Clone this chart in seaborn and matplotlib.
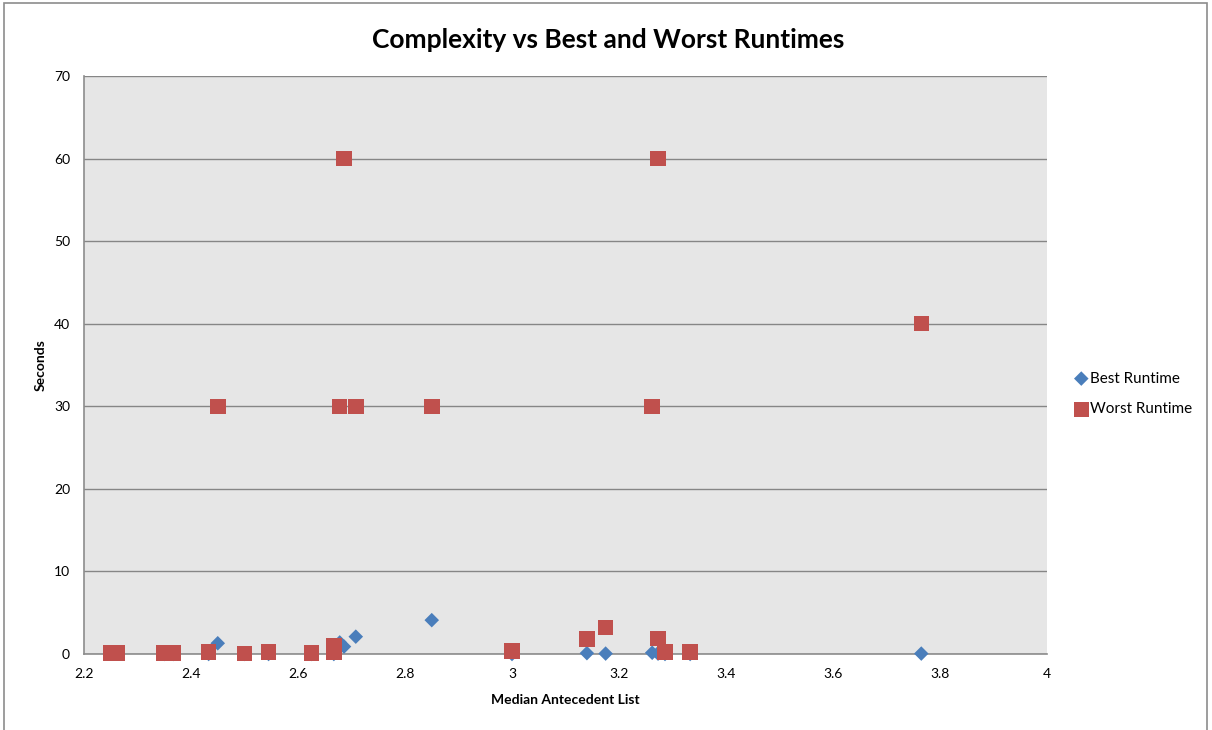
import matplotlib
matplotlib.use("Agg")
import matplotlib.pyplot as plt
import seaborn as sns
import pandas as pd
from matplotlib.patches import Rectangle

# Data
median_antecedent = [2.25, 2.262, 2.35, 2.367, 2.433, 2.45, 2.5, 2.545, 2.625,
                     2.667, 2.667, 2.678, 2.686, 2.708, 2.85, 3.0, 3.14, 3.175,
                     3.262, 3.273, 3.273, 3.286, 3.333, 3.765]
best_runtime = [0.05, 0.05, 0.0, 0.0, 0.0, 1.3, 0.0, 0.0, 0.0,
                0.1, 0.0, 1.4, 0.9, 2.1, 4.1, 0.0, 0.1, 0.05,
                0.15, 0.1, 0.05, 0.0, 0.0, 0.05]
worst_runtime = [0.1, 0.1, 0.15, 0.1, 0.25, 30, 0.05, 0.25, 0.1,
                 1.0, 0.2, 30, 60, 30, 30, 0.35, 1.8, 3.2,
                 30, 60, 1.9, 0.25, 0.25, 40]
series_names = ["Best Runtime", "Worst Runtime"]
x_ticks = [2.2, 2.4, 2.6, 2.8, 3.0, 3.2, 3.4, 3.6, 3.8, 4.0]
x_tick_labels = ["2.2", "2.4", "2.6", "2.8", "3", "3.2", "3.4", "3.6", "3.8", "4"]
y_ticks = [0, 10, 20, 30, 40, 50, 60, 70]

df = pd.DataFrame({
    "x": median_antecedent * 2,
    "y": best_runtime + worst_runtime,
    "series": [series_names[0]] * len(best_runtime) + [series_names[1]] * len(worst_runtime),
})

sns.set_theme(style="white")
plt.rcParams["font.family"] = ["Lato", "DejaVu Sans"]
plt.rcParams["text.color"] = "black"
plt.rcParams["axes.labelcolor"] = "black"

fig = plt.figure(figsize=(12.12, 7.3), dpi=100)
ax = fig.add_axes([84 / 1212, 1 - 654 / 730, (1047 - 84) / 1212, (654 - 76) / 730])
ax.set_facecolor("#E6E6E6")

palette = {series_names[0]: "#4A7EBB", series_names[1]: "#C0504D"}
markers = {series_names[0]: "D", series_names[1]: "s"}
sizes_map = {series_names[0]: 55, series_names[1]: 125}

for name in series_names:
    sub = df[df["series"] == name]
    sns.scatterplot(data=sub, x="x", y="y", color=palette[name], marker=markers[name],
                    s=sizes_map[name], edgecolor="none", linewidth=0, ax=ax,
                    label=name, zorder=3, clip_on=False)

ax.set_xlim(2.2, 4.0)
ax.set_ylim(0, 70)
ax.set_xticks(x_ticks)
ax.set_xticklabels(x_tick_labels)
ax.set_yticks(y_ticks)
ax.yaxis.grid(True, color="#868686", linewidth=1.0)
ax.xaxis.grid(False)
ax.set_axisbelow(True)

for side in ["top", "right"]:
    ax.spines[side].set_visible(False)
for side in ["left", "bottom"]:
    ax.spines[side].set_color("#8C8C8C")
    ax.spines[side].set_linewidth(1.2)
    ax.spines[side].set_zorder(1)

ax.tick_params(axis="both", labelsize=10, colors="#000000", length=4, direction="out",
               color="#8C8C8C", width=1)
ax.tick_params(axis="x", pad=6)
ax.tick_params(axis="y", pad=6)

ax.set_xlabel("Median Antecedent List", fontsize=10, fontweight="bold", labelpad=10)
ax.set_ylabel("Seconds", fontsize=10, fontweight="bold", labelpad=5)

fig.suptitle("Complexity vs Best and Worst Runtimes", fontsize=19, fontweight="bold",
             x=(372 + 845) / 2 / 1212, y=1 - 40 / 730, va="center", color="black")

leg = ax.legend(loc="center left", bbox_to_anchor=(1066 / 1212, 1 - 394 / 730),
                bbox_transform=fig.transFigure, frameon=False, fontsize=11,
                handletextpad=0.1, labelspacing=1.1, borderpad=0, handlelength=1.0)

fig.patches.append(Rectangle((4 / 1212, -0.02), 1203 / 1212, 1.0 - 3 / 730 + 0.02,
                             transform=fig.transFigure, fill=False,
                             edgecolor="#8C8C8C", linewidth=1.2))

fig.savefig("out.png", dpi=100)
